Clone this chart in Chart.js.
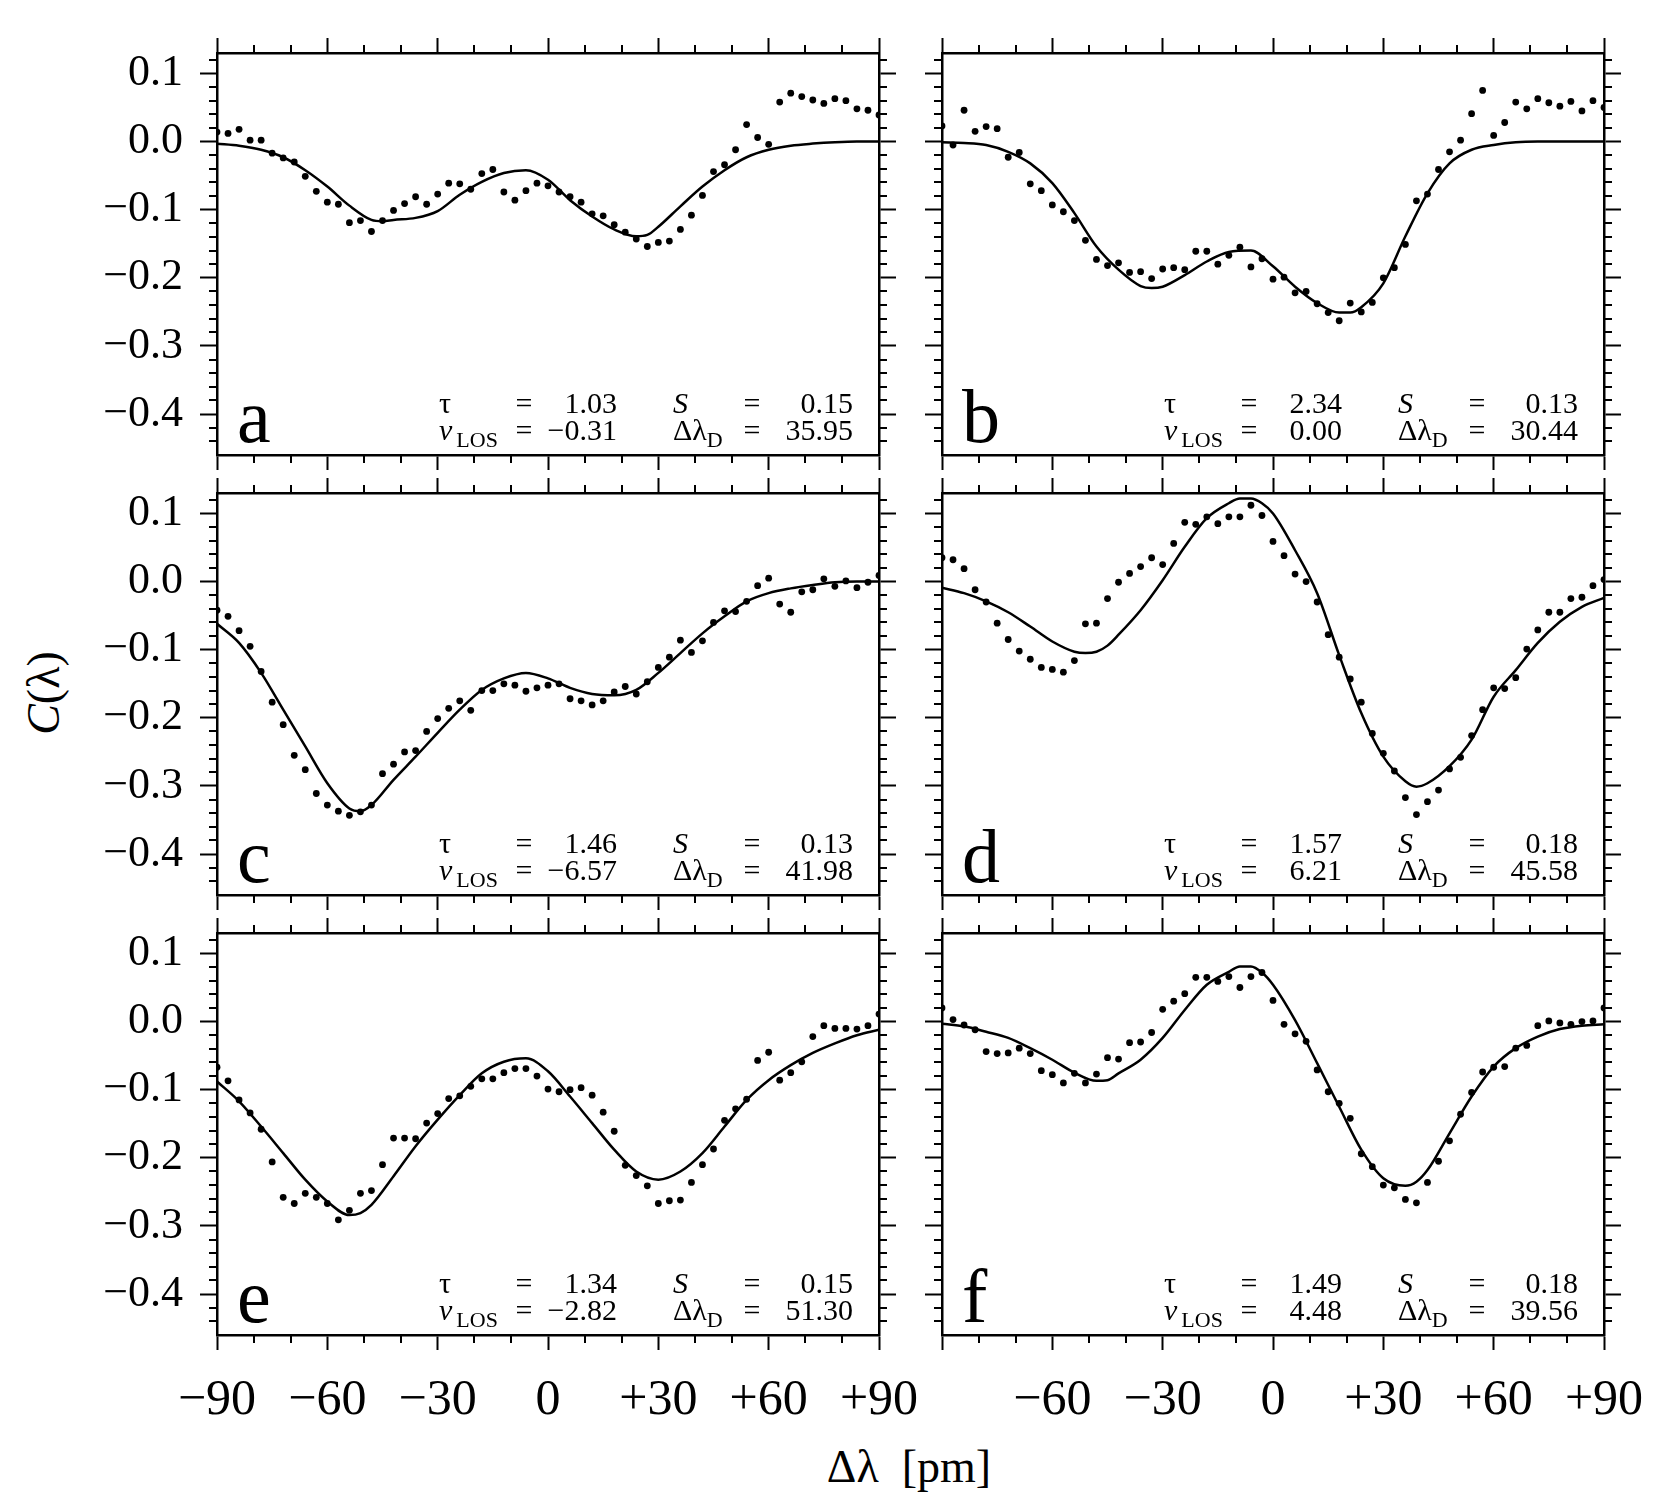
<!DOCTYPE html>
<html>
<head>
<meta charset="utf-8">
<script src="https://cdn.jsdelivr.net/npm/chart.js@4.4.0/dist/chart.umd.min.js"></script>
<style>
  html, body { margin: 0; padding: 0; background: #fff; }
  #fig { position: relative; width: 1667px; height: 1500px; background: #fff; overflow: hidden;
         font-family: 'Liberation Serif', 'Times New Roman', serif; color: #000; }
  .panel { position: absolute; }
  .xtitle { position: absolute; left: 909px; top: 1444px; transform: translateX(-50%);
            font-size: 46px; line-height: 1; white-space: pre; }
  .ytitle { position: absolute; left: 44px; top: 693px; transform: translate(-50%, -50%) rotate(-90deg);
            font-size: 46px; line-height: 1; white-space: nowrap; }
</style>
</head>
<body>
<div id="fig">
  <div class="ytitle"><i>C</i>(λ)</div>
  <div class="xtitle">Δλ  [pm]</div>
</div>
<script>
// wavelength offsets of the measured points [pm]
var waveX = [-90,-87,-84,-81,-78,-75,-72,-69,-66,-63,-60,-57,-54,-51,-48,-45,-42,-39,-36,-33,
             -30,-27,-24,-21,-18,-15,-12,-9,-6,-3,0,3,6,9,12,15,18,21,24,27,
             30,33,36,39,42,45,48,51,54,57,60,63,66,69,72,75,78,81,84,87,90];

// measured contrast C(lambda), one array per panel
var dotsA = [0.014,0.012,0.018,0.002,0.002,-0.017,-0.024,-0.030,-0.051,-0.073,
             -0.089,-0.092,-0.119,-0.116,-0.132,-0.116,-0.101,-0.091,-0.081,-0.092,
             -0.077,-0.061,-0.062,-0.070,-0.047,-0.041,-0.074,-0.086,-0.072,-0.061,
             -0.065,-0.074,-0.081,-0.089,-0.106,-0.109,-0.122,-0.133,-0.143,-0.154,
             -0.148,-0.146,-0.129,-0.108,-0.079,-0.044,-0.034,-0.012,0.025,0.006,
             -0.004,0.058,0.071,0.066,0.061,0.056,0.063,0.060,0.048,0.046,0.039];
var dotsB = [0.023,-0.005,0.046,0.015,0.022,0.019,-0.023,-0.016,-0.062,-0.072,
             -0.093,-0.103,-0.116,-0.145,-0.173,-0.182,-0.178,-0.192,-0.191,-0.201,
             -0.187,-0.185,-0.188,-0.161,-0.161,-0.180,-0.167,-0.155,-0.184,-0.172,
             -0.202,-0.199,-0.222,-0.220,-0.238,-0.251,-0.263,-0.237,-0.250,-0.236,
             -0.200,-0.185,-0.151,-0.087,-0.077,-0.041,-0.015,0.002,0.041,0.075,
             0.009,0.028,0.058,0.048,0.063,0.057,0.052,0.059,0.045,0.060,0.050];
var dotsC = [-0.042,-0.051,-0.072,-0.095,-0.132,-0.177,-0.210,-0.255,-0.276,-0.311,
             -0.328,-0.337,-0.343,-0.338,-0.328,-0.282,-0.268,-0.250,-0.248,-0.220,
             -0.201,-0.186,-0.175,-0.189,-0.160,-0.160,-0.150,-0.152,-0.161,-0.156,
             -0.152,-0.150,-0.172,-0.175,-0.181,-0.175,-0.162,-0.154,-0.165,-0.147,
             -0.126,-0.111,-0.086,-0.104,-0.087,-0.060,-0.043,-0.044,-0.029,-0.006,
             0.005,-0.033,-0.045,-0.015,-0.012,0.004,-0.007,0.001,-0.009,-0.001,0.009];
var dotsD = [0.035,0.032,0.019,-0.012,-0.030,-0.061,-0.085,-0.102,-0.114,-0.126,
             -0.129,-0.133,-0.116,-0.062,-0.061,-0.025,-0.001,0.012,0.022,0.035,
             0.025,0.056,0.087,0.084,0.095,0.085,0.095,0.095,0.112,0.097,
             0.059,0.038,0.011,0.000,-0.030,-0.078,-0.111,-0.143,-0.177,-0.223,
             -0.252,-0.278,-0.317,-0.342,-0.323,-0.306,-0.275,-0.258,-0.226,-0.188,
             -0.156,-0.157,-0.141,-0.099,-0.071,-0.045,-0.045,-0.025,-0.023,-0.006,0.003];
var dotsE = [-0.067,-0.087,-0.115,-0.134,-0.158,-0.206,-0.258,-0.267,-0.252,-0.258,
             -0.267,-0.291,-0.277,-0.252,-0.248,-0.210,-0.171,-0.171,-0.172,-0.149,
             -0.135,-0.113,-0.109,-0.095,-0.084,-0.084,-0.075,-0.069,-0.069,-0.080,
             -0.099,-0.103,-0.100,-0.097,-0.108,-0.133,-0.161,-0.211,-0.226,-0.241,
             -0.267,-0.263,-0.262,-0.236,-0.210,-0.187,-0.145,-0.128,-0.114,-0.057,
             -0.045,-0.086,-0.075,-0.059,-0.022,-0.006,-0.010,-0.010,-0.011,-0.006,0.011];
var dotsF = [0.020,0.003,-0.005,-0.012,-0.044,-0.047,-0.046,-0.039,-0.047,-0.072,
             -0.078,-0.090,-0.076,-0.090,-0.077,-0.053,-0.055,-0.031,-0.030,-0.016,
             0.018,0.030,0.041,0.065,0.065,0.059,0.066,0.050,0.066,0.072,
             0.031,-0.004,-0.018,-0.029,-0.071,-0.103,-0.120,-0.142,-0.194,-0.213,
             -0.240,-0.244,-0.261,-0.266,-0.236,-0.205,-0.175,-0.136,-0.104,-0.074,
             -0.067,-0.066,-0.039,-0.035,-0.006,0.001,-0.002,-0.004,0.000,0.001,0.020];

// fitted model curves
var fitXA = [-90,-84,-78,-72,-66,-60,-54,-48,-45,-42,-36,-30,-24,-18,-12,-6,0,6,12,18,24,27,30,36,42,48,54,60,66,72,78,84,90];
var fitA  = [-0.003,-0.006,-0.012,-0.023,-0.042,-0.066,-0.094,-0.115,-0.117,-0.115,-0.112,-0.102,-0.078,-0.059,-0.046,-0.042,
             -0.056,-0.086,-0.110,-0.129,-0.139,-0.137,-0.125,-0.095,-0.066,-0.042,-0.023,-0.012,-0.006,-0.003,-0.001,0,0];
var fitXB = [-90,-84,-78,-72,-66,-60,-54,-48,-42,-36,-33,-30,-24,-18,-12,-6,0,6,12,18,21,24,30,36,42,48,54,60,66,72,78,84,90];
var fitB  = [-0.001,-0.002,-0.005,-0.015,-0.032,-0.061,-0.105,-0.154,-0.188,-0.212,-0.215,-0.213,-0.196,-0.176,-0.162,-0.160,
             -0.183,-0.213,-0.237,-0.251,-0.251,-0.243,-0.208,-0.139,-0.076,-0.032,-0.012,-0.005,-0.001,0,0,0,0];
var fitXC = [-90,-84,-78,-72,-66,-60,-54,-51,-48,-42,-36,-30,-24,-18,-12,-6,0,6,12,18,24,30,36,42,48,54,60,66,72,78,84,90];
var fitC  = [-0.062,-0.090,-0.134,-0.188,-0.242,-0.296,-0.333,-0.337,-0.328,-0.291,-0.257,-0.222,-0.188,-0.159,-0.142,-0.134,
             -0.142,-0.156,-0.165,-0.167,-0.159,-0.134,-0.105,-0.076,-0.051,-0.029,-0.017,-0.010,-0.005,-0.001,0,0];
var fitXD = [-90,-84,-78,-72,-66,-60,-54,-51,-48,-45,-42,-36,-30,-24,-18,-12,-9,-6,-3,0,6,12,18,24,30,36,39,42,48,54,60,66,72,78,84,90];
var fitD  = [-0.009,-0.017,-0.029,-0.045,-0.066,-0.088,-0.103,-0.105,-0.103,-0.094,-0.078,-0.042,0.002,0.051,0.093,0.115,0.122,0.122,
             0.115,0.100,0.046,-0.017,-0.108,-0.193,-0.257,-0.293,-0.301,-0.296,-0.271,-0.232,-0.169,-0.130,-0.090,-0.059,-0.037,-0.024];
var fitXE = [-90,-84,-78,-72,-66,-60,-54,-51,-48,-42,-36,-30,-24,-18,-12,-6,0,6,12,18,24,30,36,42,48,54,60,66,72,78,84,90];
var fitE  = [-0.088,-0.117,-0.154,-0.193,-0.232,-0.264,-0.284,-0.281,-0.269,-0.227,-0.183,-0.144,-0.108,-0.076,-0.059,-0.054,
             -0.073,-0.110,-0.149,-0.188,-0.220,-0.232,-0.220,-0.193,-0.154,-0.115,-0.086,-0.064,-0.046,-0.032,-0.020,-0.012];
var fitXF = [-90,-84,-78,-72,-66,-60,-54,-48,-45,-42,-36,-30,-24,-18,-12,-9,-6,-3,0,6,12,18,24,30,36,39,42,48,54,60,66,72,78,84,90];
var fitF  = [-0.003,-0.007,-0.015,-0.024,-0.039,-0.056,-0.075,-0.087,-0.086,-0.076,-0.056,-0.024,0.017,0.054,0.073,0.081,0.081,
             0.072,0.054,0.002,-0.061,-0.125,-0.188,-0.230,-0.241,-0.235,-0.218,-0.164,-0.110,-0.066,-0.039,-0.022,-0.011,-0.006,-0.004];

// fit parameters printed in each panel
var panelLetters = ['a', 'b', 'c', 'd', 'e', 'f'];
var tauVals  = ['1.03', '2.34', '1.46', '1.57', '1.34', '1.49'];
var sVals    = ['0.15', '0.13', '0.13', '0.18', '0.15', '0.18'];
var vlosVals = ['\u22120.31', '0.00', '\u22126.57', '6.21', '\u22122.82', '4.48'];
var dopVals  = ['35.95', '30.44', '41.98', '45.58', '51.30', '39.56'];

// axis ticks
var xMajorTicks = [-90, -60, -30, 0, 30, 60, 90];
var xMinorTicks = [-80, -70, -50, -40, -20, -10, 10, 20, 40, 50, 70, 80];
var yMajorTicks = [-0.4, -0.3, -0.2, -0.1, 0, 0.1];
var yMinorTicks = [0.12, 0.08, 0.06, 0.04, 0.02, -0.02, -0.04, -0.06, -0.08, -0.12, -0.14, -0.16, -0.18,
                   -0.22, -0.24, -0.26, -0.28, -0.32, -0.34, -0.36, -0.38, -0.42, -0.44];

var dotSets = [dotsA, dotsB, dotsC, dotsD, dotsE, dotsF];
var fitXSets = [fitXA, fitXB, fitXC, fitXD, fitXE, fitXF];
var fitSets = [fitA, fitB, fitC, fitD, fitE, fitF];

// layout (pixels)
var PLOT_W = 662, PLOT_H = 402;
var colLeft = [217, 942];
var rowTop = [53, 493, 933];
var ML = 140, MR = 60, MT = 30, MB = 100;
var FONT = "'Liberation Serif', 'Times New Roman', serif";

function fmtX(v) {
  if (v > 0) return '+' + v;
  if (v < 0) return '\u2212' + Math.abs(v);
  return '0';
}
function fmtY(v) {
  var s = Math.abs(v).toFixed(1);
  return v < -1e-9 ? '\u2212' + s : s;
}

function txt(ctx, s, x, y, font, align) {
  ctx.font = font;
  ctx.textAlign = align || 'left';
  ctx.fillText(s, x, y);
  return ctx.measureText(s).width;
}

// fix the axis box size and drop label overflow padding so the plot frame lands where wanted
function fixSize(prop, size) {
  return function(s) {
    s[prop] = size;
    s.paddingTop = 0; s.paddingBottom = 0; s.paddingLeft = 0; s.paddingRight = 0;
  };
}

var panelDecor = {
  id: 'panelDecor',
  afterDraw: function(chart) {
    var ctx = chart.ctx, a = chart.chartArea;
    var sx = chart.scales.x, sy = chart.scales.y;
    var k = chart.options.plugins.panelDecor.index;
    ctx.save();
    ctx.strokeStyle = '#000';
    ctx.lineWidth = 2;
    ctx.beginPath();
    xMinorTicks.forEach(function(v) {
      var px = Math.round(sx.getPixelForValue(v));
      ctx.moveTo(px, a.top); ctx.lineTo(px, a.top - 8);
      ctx.moveTo(px, a.bottom); ctx.lineTo(px, a.bottom + 8);
    });
    yMinorTicks.forEach(function(v) {
      var py = Math.round(sy.getPixelForValue(v));
      ctx.moveTo(a.left, py); ctx.lineTo(a.left - 8, py);
      ctx.moveTo(a.right, py); ctx.lineTo(a.right + 8, py);
    });
    ctx.stroke();

    ctx.fillStyle = '#000';
    ctx.textBaseline = 'alphabetic';
    var L = a.left, y1 = a.bottom - 42, y2 = a.bottom - 15;
    var f = '30px ' + FONT, fi = 'italic 30px ' + FONT, fs = '22px ' + FONT;
    txt(ctx, panelLetters[k], L + 20, a.bottom - 13, '76px ' + FONT);
    txt(ctx, '\u03C4', L + 222, y1, f);
    txt(ctx, '=', L + 307, y1, f, 'center');
    txt(ctx, tauVals[k], L + 400, y1, f, 'right');
    txt(ctx, 'S', L + 456, y1, fi);
    txt(ctx, '=', L + 535, y1, f, 'center');
    txt(ctx, sVals[k], L + 636, y1, f, 'right');
    var wv = txt(ctx, 'v', L + 222, y2, fi);
    txt(ctx, 'LOS', L + 222 + wv + 4, y2 + 7, fs);
    txt(ctx, '=', L + 307, y2, f, 'center');
    txt(ctx, vlosVals[k], L + 400, y2, f, 'right');
    var wd = txt(ctx, '\u0394\u03BB', L + 456, y2, f);
    txt(ctx, 'D', L + 456 + wd, y2 + 7, fs);
    txt(ctx, '=', L + 535, y2, f, 'center');
    txt(ctx, dopVals[k], L + 636, y2, f, 'right');
    ctx.restore();
  }
};

function axisGrid(len) {
  return { drawOnChartArea: false, drawTicks: true, tickLength: len, tickWidth: 2, tickColor: '#000' };
}
var axisBorder = { display: true, color: '#000', width: 2.5 };

var fig = document.getElementById('fig');

for (var k = 0; k < 6; k++) {
  var row = Math.floor(k / 2), col = k % 2;
  var box = document.createElement('div');
  box.className = 'panel';
  box.style.left = (colLeft[col] - ML) + 'px';
  box.style.top = (rowTop[row] - MT) + 'px';
  var cv = document.createElement('canvas');
  cv.width = PLOT_W + ML + MR;
  cv.height = PLOT_H + MT + MB;
  cv.style.width = cv.width + 'px';
  cv.style.height = cv.height + 'px';
  box.appendChild(cv);
  fig.appendChild(box);

  var dots = dotSets[k].map(function(v, i) { return { x: waveX[i], y: v }; });
  var fitX = fitXSets[k];
  var curve = fitSets[k].map(function(v, i) { return { x: fitX[i], y: v }; });
  var showX = row === 2, showY = col === 0, rightCol = col === 1;

  new Chart(cv, {
    type: 'scatter',
    data: {
      datasets: [{
        data: curve,
        showLine: true,
        borderColor: '#000',
        borderWidth: 2.5,
        pointRadius: 0,
        cubicInterpolationMode: 'monotone'
      }, {
        data: dots,
        showLine: false,
        pointRadius: 3.4,
        pointHoverRadius: 3.4,
        pointBackgroundColor: '#000',
        pointBorderWidth: 0
      }]
    },
    options: {
      responsive: false,
      devicePixelRatio: 1,
      animation: false,
      events: [],
      layout: { padding: 0 },
      plugins: {
        legend: { display: false },
        tooltip: { enabled: false },
        panelDecor: { index: k }
      },
      scales: {
        x: {
          type: 'linear', position: 'bottom', min: -90, max: 90,
          afterBuildTicks: function(s) { s.ticks = xMajorTicks.map(function(v) { return { value: v }; }); },
          afterFit: fixSize('height', MB),
          grid: axisGrid(15), border: axisBorder,
          ticks: {
            display: showX, autoSkip: false, maxRotation: 0, minRotation: 0, padding: 21,
            color: '#000', font: { family: FONT, size: 50 },
            callback: (function(rc) {
              return function(v) { return (rc && v === -90) ? '' : fmtX(v); };
            })(rightCol)
          }
        },
        x2: {
          type: 'linear', position: 'top', min: -90, max: 90,
          afterBuildTicks: function(s) { s.ticks = xMajorTicks.map(function(v) { return { value: v }; }); },
          afterFit: fixSize('height', MT),
          grid: axisGrid(15), border: axisBorder,
          ticks: { display: false }
        },
        y: {
          type: 'linear', position: 'left', min: -0.46, max: 0.13,
          afterBuildTicks: function(s) { s.ticks = yMajorTicks.map(function(v) { return { value: v }; }); },
          afterFit: fixSize('width', ML),
          grid: axisGrid(17), border: axisBorder,
          ticks: {
            display: showY, padding: 17, color: '#000', font: { family: FONT, size: 44 },
            callback: function(v) { return fmtY(v); }
          }
        },
        y2: {
          type: 'linear', position: 'right', min: -0.46, max: 0.13,
          afterBuildTicks: function(s) { s.ticks = yMajorTicks.map(function(v) { return { value: v }; }); },
          afterFit: fixSize('width', MR),
          grid: axisGrid(17), border: axisBorder,
          ticks: { display: false }
        }
      }
    },
    plugins: [panelDecor]
  });
}
</script>
</body>
</html>
